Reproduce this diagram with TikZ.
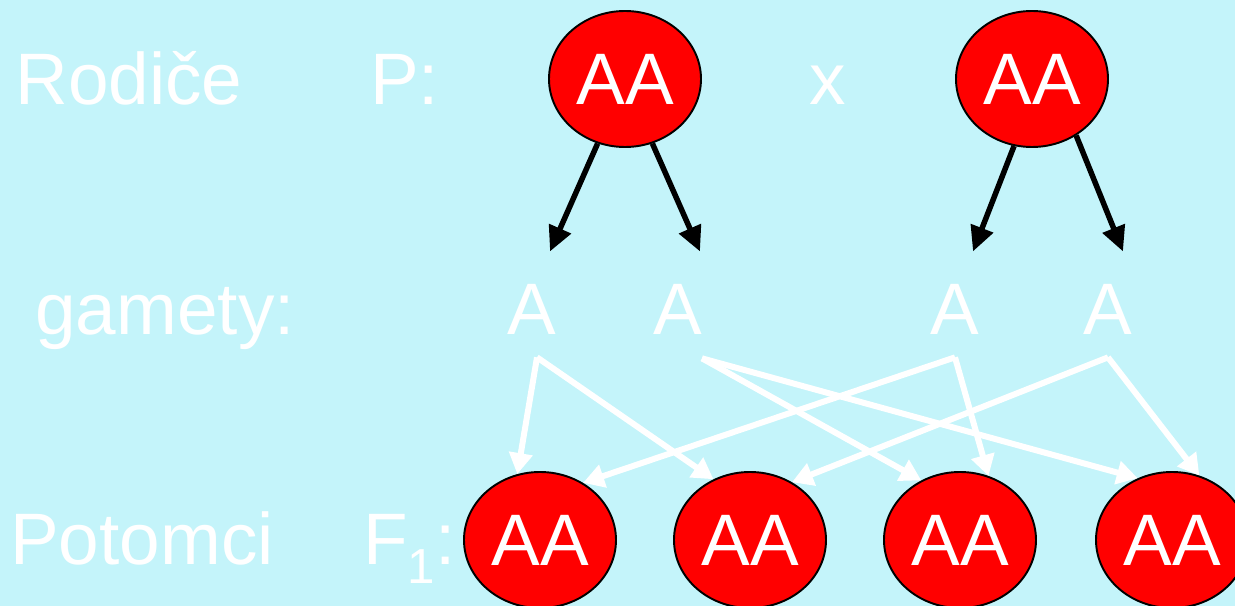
\documentclass[tikz,border=0pt]{standalone}
\usepackage{fontspec}
\setmainfont{Liberation Sans}
\usetikzlibrary{shapes.geometric,arrows.meta,positioning,calc}
\definecolor{bg}{HTML}{C4F4FA}
\definecolor{allele}{HTML}{FF0000}

\begin{document}
\begin{tikzpicture}[
    bigtext/.style={
        text=white, inner sep=0pt,
        font=\fontsize{41.5}{48}\selectfont
    },
    genotype/.style={
        ellipse, draw=black, fill=allele, text=white,
        minimum width=3.04cm, minimum height=2.72cm, inner sep=0pt,
        line width=1.1pt, font=\fontsize{41.5}{48}\selectfont
    },
    darrow/.style={-{Triangle[width=0.46cm,length=0.5cm]}, line width=0.11cm, color=black},
    warrow/.style={-{Triangle[width=0.46cm,length=0.42cm]}, line width=0.12cm, color=white},
]
\fill[bg] (0,0) rectangle (24.7,12.12);
\useasboundingbox (0,0) rectangle (24.7,12.12);

% Popisky radku
\node[bigtext, anchor=base west] (rodice) at (0.3,10.02) {Rodiče};
\node[bigtext, anchor=base west] (plabel) at (7.4,10.02) {P:};
\node[bigtext, anchor=base] (cross) at (16.56,10.02) {x};
\node[bigtext, anchor=base west] (gamety) at (0.7,5.42) {gamety:};
\node[bigtext, anchor=base west] (potomci) at (0.2,0.82) {Potomci};
\node[bigtext, anchor=base west] (flabel) at (7.26,0.82)
    {F\raisebox{-0.26em}{\fontsize{28}{30}\selectfont 1}:};

% Rodice
\node[genotype] (p1) at (12.5,10.54) {AA};
\node[genotype] (p2) at (20.64,10.54) {AA};

% Gamety
\node[bigtext, anchor=base] (g1) at (10.64,5.42) {A};
\node[bigtext, anchor=base] (g2) at (13.56,5.42) {A};
\node[bigtext, anchor=base] (g3) at (19.1,5.42) {A};
\node[bigtext, anchor=base] (g4) at (22.16,5.42) {A};

% Potomci
\node[genotype] (f1) at (10.8,1.32) {AA};
\node[genotype] (f2) at (15.0,1.32) {AA};
\node[genotype] (f3) at (19.2,1.32) {AA};
\node[genotype] (f4) at (23.44,1.32) {AA};

% Rodice -> gamety
\draw[darrow] (p1.247) -- ($(g1.north)+(0.36,0.66)$);
\draw[darrow] (p1.293) -- ($(g2.north)+(0.44,0.66)$);
\draw[darrow] (p2.255) -- ($(g3.north)+(0.36,0.66)$);
\draw[darrow] (p2.308) -- ($(g4.north)+(0.3,0.66)$);

% Gamety -> potomci
\draw[warrow] ($(g1.south)+(0.1,-0.44)$) -- (f1.109);
\draw[warrow] ($(g1.south)+(0.1,-0.44)$) -- (f2.121);
\draw[warrow] ($(g2.south)+(0.48,-0.46)$) -- (f3.123);
\draw[warrow] ($(g2.south)+(0.48,-0.46)$) -- (f4.119);
\draw[warrow] ($(g3.south)+(0,-0.44)$) -- (f1.53);
\draw[warrow] ($(g3.south)+(0,-0.44)$) -- (f3.66);
\draw[warrow] ($(g4.south)+(0,-0.44)$) -- (f2.54);
\draw[warrow] ($(g4.south)+(0,-0.44)$) -- (f4.67);

\end{tikzpicture}
\end{document}
